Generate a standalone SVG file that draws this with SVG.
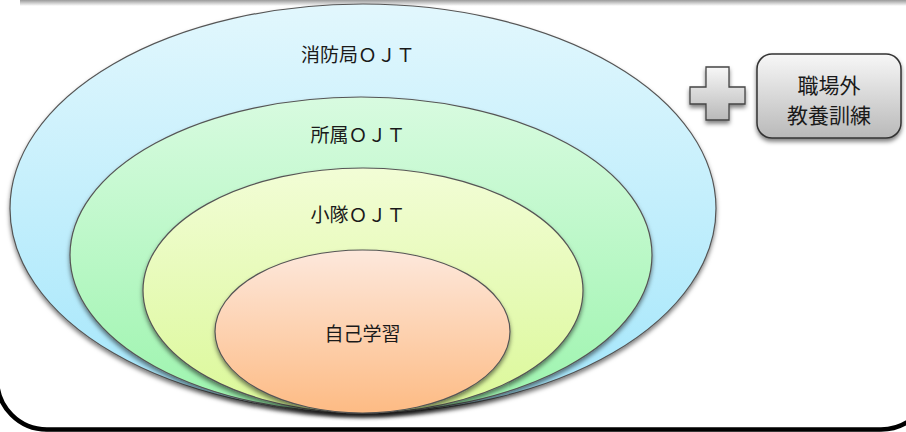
<svg xmlns="http://www.w3.org/2000/svg" width="906" height="432" viewBox="0 0 906 432">
<defs>
<style>
.lbl{font-family:"Noto Sans CJK JP","Noto Sans",sans-serif;font-size:19px;fill:#1a1a1a;text-anchor:middle}
.box{font-family:"Noto Sans CJK JP","Noto Sans",sans-serif;font-size:21px;fill:#1a1a1a;text-anchor:middle}
.ell{stroke:#555;stroke-width:1.2}
</style>
<linearGradient id="gBlue" x1="0" y1="0" x2="0" y2="1"><stop offset="0" stop-color="#e2f7fd"/><stop offset="1" stop-color="#a3e6fb"/></linearGradient>
<linearGradient id="gGreen" x1="0" y1="0" x2="0" y2="1"><stop offset="0" stop-color="#d8fbe0"/><stop offset="1" stop-color="#9cf4ad"/></linearGradient>
<linearGradient id="gYellow" x1="0" y1="0" x2="0" y2="1"><stop offset="0" stop-color="#f2fdd6"/><stop offset="1" stop-color="#dbf898"/></linearGradient>
<linearGradient id="gOrange" x1="0" y1="0" x2="0" y2="1"><stop offset="0" stop-color="#fde8dc"/><stop offset="1" stop-color="#fdbb84"/></linearGradient>
<linearGradient id="gGray" x1="0" y1="0" x2="0" y2="1"><stop offset="0" stop-color="#f7f7f7"/><stop offset="1" stop-color="#b9b9b9"/></linearGradient>
<linearGradient id="gTop" x1="0" y1="0" x2="0" y2="1"><stop offset="0" stop-color="#9a9a9a"/><stop offset="1" stop-color="#ffffff"/></linearGradient>
<filter id="sh" x="-10%" y="-10%" width="120%" height="130%"><feDropShadow dx="0" dy="3" stdDeviation="2.2" flood-color="#000" flood-opacity="0.5"/></filter>
</defs>
<rect x="0" y="0" width="906" height="432" fill="#fff"/>
<rect x="20" y="0" width="886" height="6" fill="url(#gTop)"/>
<line x1="45" y1="431.5" x2="880" y2="431.5" stroke="#ddd" stroke-width="1"/>
<rect id="frame" x="-3" y="-200" width="934" height="629.5" rx="50" ry="50" fill="none" stroke="#000" stroke-width="4.5"/>
<g id="n-shobo"><ellipse class="ell" cx="363" cy="208.5" rx="353" ry="204.5" fill="url(#gBlue)" filter="url(#sh)"/><text class="lbl" x="358" y="62">消防局ＯＪＴ</text></g>
<g id="n-shozoku"><ellipse class="ell" cx="361" cy="255" rx="291" ry="158" fill="url(#gGreen)" filter="url(#sh)"/><text class="lbl" x="358" y="142">所属ＯＪＴ</text></g>
<g id="n-shotai"><ellipse class="ell" cx="363" cy="290.5" rx="220" ry="122.5" fill="url(#gYellow)" filter="url(#sh)"/><text class="lbl" x="358" y="222">小隊ＯＪＴ</text></g>
<g id="n-jiko"><ellipse class="ell" cx="362.5" cy="331.5" rx="147.5" ry="81.5" fill="url(#gOrange)" filter="url(#sh)"/><text class="lbl" x="362.5" y="341">自己学習</text></g>
<g id="plus"><path d="M706,67 H729 V87 H745 V104 H729 V120 H706 V104 H690 V87 H706 Z" fill="url(#gGray)" stroke="#444" stroke-width="1.3" filter="url(#sh)"/></g>
<g id="n-shokuba"><rect x="757" y="54" width="144" height="84" rx="15" ry="15" fill="url(#gGray)" stroke="#333" stroke-width="1.5" filter="url(#sh)"/><text class="box" x="829" y="93">職場外</text><text class="box" x="829" y="123">教養訓練</text></g>
<g id="connectors"/>
</svg>
